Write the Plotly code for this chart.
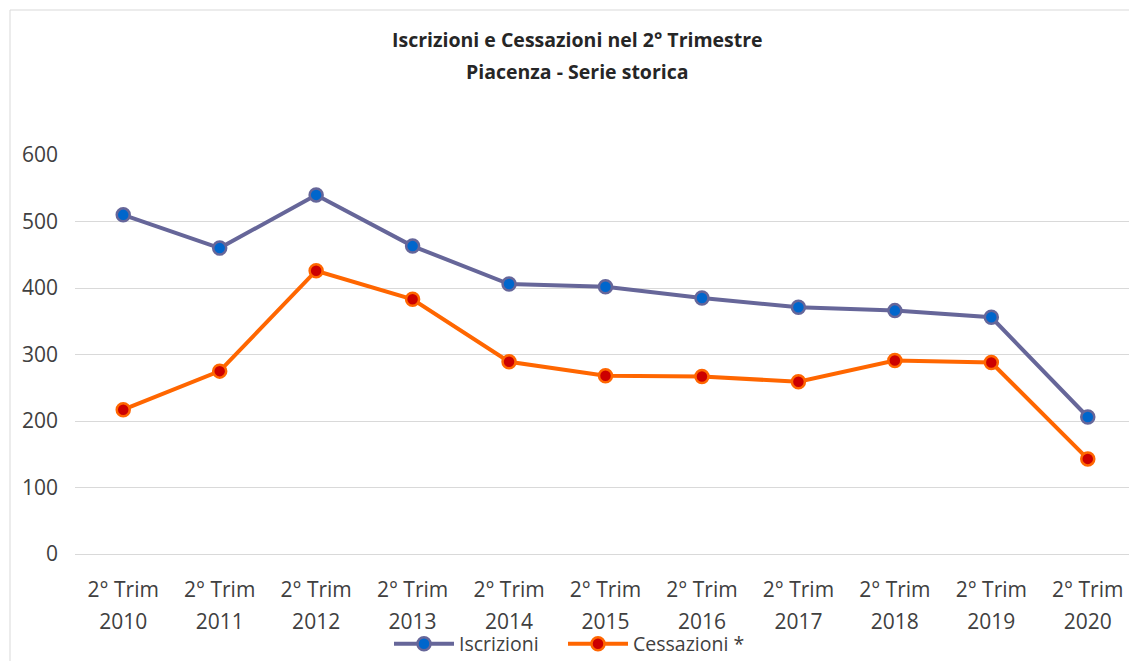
import plotly.graph_objects as go

years = ["2010", "2011", "2012", "2013", "2014", "2015", "2016", "2017", "2018", "2019", "2020"]
period_label = "2° Trim"
iscrizioni = [510, 460, 540, 463, 406, 402, 385, 371, 366, 356, 206]
cessazioni = [217, 275, 426, 383, 289, 268, 267, 259, 291, 288, 143]
title_lines = ["Iscrizioni e Cessazioni nel 2° Trimestre", "Piacenza - Serie storica"]

# the page body has an 8px margin: figure coords = picture coords - 8
OFF = 8
W, H = 1137 - OFF, 661 - OFF
L, T = 75 - OFF, 155 - OFF
R = W - (1136 - OFF)
B = H - (554 - OFF)
pw = W - L - R
ph = H - T - B


def px(x):
    return (x - OFF - L) / pw


def py(y):
    return (H - B - (y - OFF)) / ph


fig = go.Figure()
fig.add_trace(go.Scatter(
    x=years, y=iscrizioni, name="Iscrizioni", mode="lines+markers", legend="legend",
    line=dict(color="#666699", width=4),
    marker=dict(color="#0066CC", size=13, line=dict(color="#666699", width=2.5)),
))
fig.add_trace(go.Scatter(
    x=years, y=cessazioni, name="Cessazioni *", mode="lines+markers", legend="legend2",
    line=dict(color="#FF6600", width=4),
    marker=dict(color="#CC0000", size=13, line=dict(color="#FF6600", width=2.5)),
))
# invisible helper trace that carries the "2° Trim" label row on a second x axis
fig.add_trace(go.Scatter(
    x=years, y=[None] * len(years), xaxis="x2", showlegend=False, hoverinfo="skip",
    mode="lines", line=dict(width=0),
))

tick_font = dict(family="Open Sans, sans-serif", size=21, color="#404040")
legend_common = dict(orientation="h", xref="container", yref="container", xanchor="left",
                     y=1 - (644 - OFF) / H, yanchor="middle",
                     font=dict(size=19.5, color="#404040"), itemwidth=60,
                     bgcolor="rgba(0,0,0,0)")

fig.update_layout(
    width=W, height=H,
    margin=dict(l=L, r=R, t=T, b=B, autoexpand=False),
    paper_bgcolor="white", plot_bgcolor="white",
    font=dict(family="Open Sans, sans-serif", color="#404040", size=20),
    showlegend=True,
    legend=dict(x=(389 - OFF) / W, **legend_common),
    legend2=dict(x=(563 - OFF) / W, **legend_common),
    xaxis=dict(type="category", categoryorder="array", categoryarray=years,
               showgrid=False, showline=False, ticks="", automargin=False,
               tickfont=tick_font, range=[-0.5, 10.5], ticklabelstandoff=53),
    xaxis2=dict(type="category", categoryorder="array", categoryarray=years,
                overlaying="x", side="bottom", anchor="y", matches="x",
                tickmode="array", tickvals=years, ticktext=[period_label] * len(years),
                showgrid=False, showline=False, ticks="", automargin=False,
                tickfont=tick_font, range=[-0.5, 10.5], ticklabelstandoff=21),
    yaxis=dict(range=[0, 600], dtick=100, showgrid=True, gridcolor="#D9D9D9", gridwidth=1,
               zeroline=True, zerolinecolor="#D9D9D9", zerolinewidth=1, showline=False,
               automargin=False, ticks="", tickfont=tick_font, ticklabelstandoff=16),
)

for txt, yy in zip(title_lines, [40, 71]):
    fig.add_annotation(text="<b>" + txt + "</b>", xref="paper", yref="paper",
                       x=px(577), y=py(yy), xanchor="center", yanchor="middle", showarrow=False,
                       font=dict(family="Open Sans, sans-serif", size=19.5, color="#262626"))

fig.add_shape(type="line", xref="paper", yref="paper", x0=px(10), x1=px(10), y0=py(700), y1=py(10),
              line=dict(color="#D9D9D9", width=1))
fig.add_shape(type="line", xref="paper", yref="paper", x0=px(10), x1=px(1140), y0=py(10), y1=py(10),
              line=dict(color="#D9D9D9", width=1))

fig.write_html("out.html")
